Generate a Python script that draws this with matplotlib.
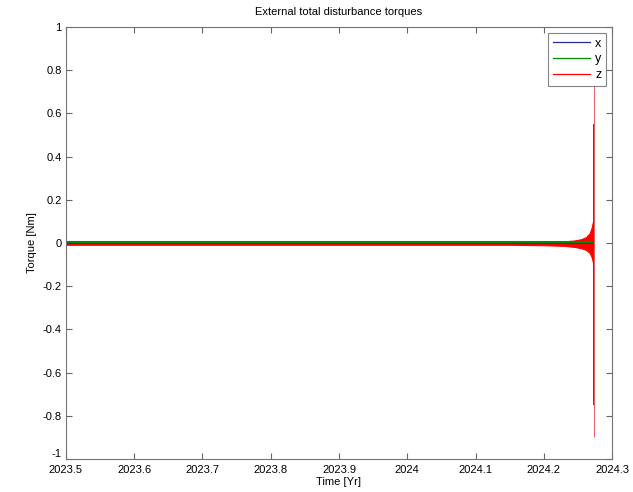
import numpy as np
import matplotlib.pyplot as plt
from matplotlib.transforms import ScaledTranslation

plt.rcParams['font.family'] = ['Liberation Sans', 'DejaVu Sans']

# x and y torque components (stay near zero over the whole run)
t_xy = [2023.5, 2024.274]
tx = [0.0, 0.0]
ty = [0.005, 0.005]

# z torque: envelope of the oscillation (upper / lower bound)
t_z = [2023.5, 2023.8, 2024.0, 2024.15, 2024.2, 2024.23, 2024.245, 2024.255,
       2024.262, 2024.267, 2024.270, 2024.272, 2024.273]
z_hi = [0.004, 0.004, 0.004, 0.004, 0.005, 0.008, 0.012, 0.018,
        0.028, 0.045, 0.07, 0.10, 0.17]
z_lo = [-0.008, -0.008, -0.008, -0.008, -0.01, -0.013, -0.018, -0.024,
        -0.032, -0.045, -0.065, -0.09, -0.17]

# final burst just before the end of the run
t_spike = [2024.2735, 2024.2740]
z_spike_hi = [0.55, 0.73]
z_spike_lo = [-0.75, -0.9]

fig = plt.figure(figsize=(6.33, 4.92), dpi=100)
ax = fig.add_axes([0.104, 0.067, 0.863, 0.878])

ax.plot(t_xy, tx, color='#2a2a9a', lw=0.8, label='x')
ax.plot(t_xy, ty, color=(0, 0.55, 0), lw=1.5, label='y')
ax.fill_between(t_z, z_lo, z_hi, color='red', lw=0.8, edgecolor='red')
ax.plot([], [], color='red', lw=0.8, label='z')
ax.vlines(t_spike[0], z_spike_lo[0], z_spike_hi[0], color='red', lw=1.4)
ax.vlines(t_spike[1], z_spike_lo[1], z_spike_hi[1], color='#e86060', lw=0.7)

ax.set_xlim(2023.5, 2024.3)
ax.set_ylim(-1, 1)
ax.set_xticks(np.arange(2023.5, 2024.31, 0.1))
ax.set_xticklabels(['2023.5', '2023.6', '2023.7', '2023.8', '2023.9',
                    '2024', '2024.1', '2024.2', '2024.3'])
ax.set_yticks(np.arange(-1, 1.01, 0.2))
ax.set_yticklabels(['-1', '-0.8', '-0.6', '-0.4', '-0.2', '0',
                    '0.2', '0.4', '0.6', '0.8', '1'])
ax.tick_params(direction='in', top=True, right=True, length=4,
               color='0.4', labelsize=8, pad=3)
ax.tick_params(axis='x', pad=4)
for s in ax.spines.values():
    s.set_color('0.45')

# lift the bottom y label a little, as the x labels sit right under it
lab = ax.get_yticklabels()[0]
lab.set_transform(lab.get_transform() + ScaledTranslation(0, 4 / 72, fig.dpi_scale_trans))

ax.set_title('External total disturbance torques', fontsize=8, pad=9)
ax.set_xlabel('Time [Yr]', fontsize=8, labelpad=2)
ax.set_ylabel('Torque [Nm]', fontsize=8, labelpad=4)

leg = ax.legend(loc='upper right', fontsize=9, fancybox=False,
                handlelength=3.0, borderaxespad=0.45, labelspacing=0.3,
                borderpad=0.4, handletextpad=0.4)
leg.get_frame().set_edgecolor('0.4')
leg.get_frame().set_linewidth(0.8)
for h in leg.get_lines():
    h.set_linewidth(0.9)

fig.savefig('out.png', dpi=100)
